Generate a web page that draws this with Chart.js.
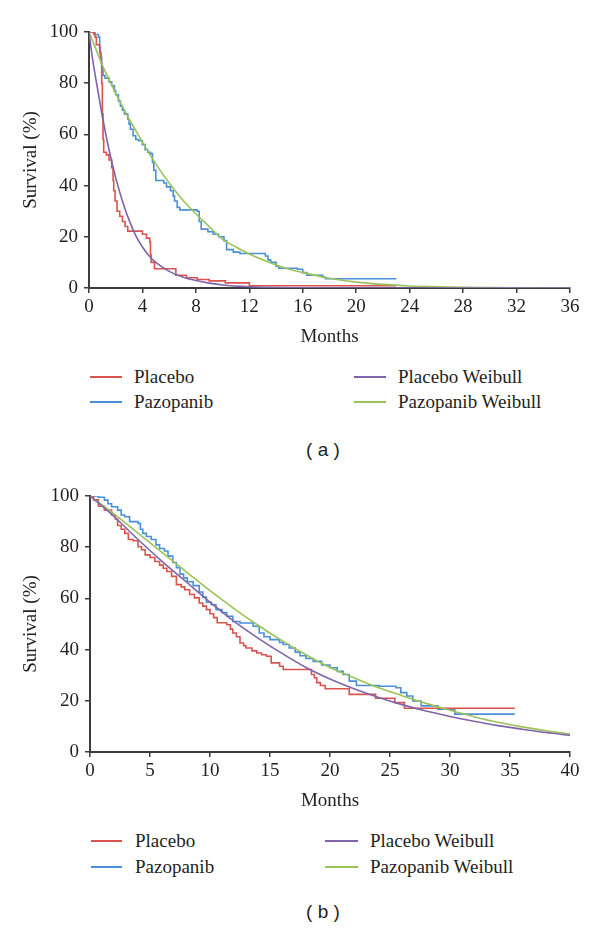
<!DOCTYPE html>
<html>
<head>
<meta charset="utf-8">
<script src="https://cdn.jsdelivr.net/npm/chart.js@4.4.0/dist/chart.umd.min.js"></script>
<style>
  body { margin: 0; background: #fff; }
  #page { position: relative; width: 600px; height: 929px; overflow: hidden; }
  canvas { position: absolute; left: 0; }
  .lg { position: absolute; height: 24px; line-height: 24px; font-family: "Liberation Serif", serif; font-size: 19px; color: #231f20; white-space: nowrap; }
  .lg span.sw { position: absolute; top: 11px; height: 2px; }
  .cap { position: absolute; width: 600px; text-align: center; font-family: "Liberation Sans", sans-serif; font-size: 19px; color: #231f20; }
</style>
</head>
<body>
<div id="page">
  <canvas id="chartA" width="600" height="350" style="top:0"></canvas>
  <canvas id="chartB" width="600" height="350" style="top:464px"></canvas>
</div>
<script>
// colours
const RED = '#d9534f';
const BLUE = '#4a90d9';
const PURPLE = '#8064aa';
const GREEN = '#9bc35a';

// ---- panel (a): [months, survival %] ----
const placeboKmA = [[0,100],[0.45,98],[0.55,95],[0.8,92],[0.9,88],[0.95,80],[1.0,68],[1.05,58],[1.1,53],[1.3,52],[1.5,50],[1.7,47],[1.8,42],[1.85,38],[1.95,34],[2.1,30],[2.3,28],[2.5,26],[2.7,24],[2.9,22.2],[4.0,21],[4.3,19.5],[4.55,18],[4.6,13],[4.65,10],[4.9,7.5],[6.5,5],[7.3,4],[8.1,3.3],[9.0,2.8],[10.2,2.0],[12.0,0.9],[23,0.9]];
const pazoKmA = [[0,100],[0.35,99],[0.7,98],[0.8,94],[0.85,90],[0.95,86],[1.05,83],[1.2,82],[1.5,80.5],[1.7,79],[1.9,77],[2.0,75.5],[2.2,73],[2.35,71],[2.5,69.5],[2.65,68],[2.9,66],[3.0,64],[3.1,62],[3.3,59.5],[3.5,58],[3.7,57.5],[4.0,56],[4.2,54],[4.4,53],[4.6,52.5],[4.75,49],[4.85,46],[5.0,42],[5.6,41],[5.8,39.5],[6.1,38],[6.3,36],[6.4,34],[6.6,31.5],[6.8,30.5],[8.1,30],[8.25,26],[8.4,23],[8.9,22],[9.3,21],[9.7,20],[10.1,18.5],[10.3,15],[10.8,14],[11.3,13.5],[13.2,12.5],[13.4,11],[13.6,10],[14.0,8.5],[14.2,7.7],[15.6,7.3],[16.0,6],[16.3,5],[17.5,4.2],[17.7,3.6],[23,3.6]];
const placeboWbA = [[0,100],[0.25,90],[0.5,82],[0.8,73],[1,67],[1.5,54],[2,43],[2.5,34],[3,26.5],[3.5,20.5],[4,16],[4.5,12.5],[5,10],[6,6.5],[7,4.3],[8,2.9],[9,1.9],[10,1.2],[12,0.5],[14,0.2],[16,0.1],[20,0],[36,0]];
const pazoWbA = [[0,100],[0.5,93.5],[1,87],[1.5,81.5],[2,76],[2.5,71],[3,66],[3.5,61.5],[4,57],[5,48.5],[6,41],[7,34.5],[8,29],[9,24],[10,19],[11,16],[12,13.3],[13,11],[14,9],[15,7.3],[16,6],[18,3.8],[20,2.3],[22,1.4],[24,0.8],[26,0.5],[28,0.3],[30,0.15],[33,0.05],[36,0]];
const xTicksA = [0,4,8,12,16,20,24,28,32,36];

// ---- panel (b) ----
const placeboKmB = [[0,100],[0.3,98.5],[0.7,96],[1.2,94.5],[1.8,92.6],[2.1,91],[2.3,88.5],[2.6,87],[2.9,85.4],[3.2,83],[3.6,82.5],[4.0,80.2],[4.3,79],[4.6,77],[5.0,76],[5.4,74.4],[5.8,73],[6.1,71.8],[6.4,70.5],[6.8,68.6],[7.2,65.4],[7.6,64.5],[7.9,63.4],[8.3,61.5],[8.7,60.2],[9.1,58.2],[9.4,57],[9.7,55.6],[10.0,54],[10.3,52.5],[10.6,50.5],[11.4,49.7],[11.7,48],[11.9,46.5],[12.2,45],[12.5,42.6],[12.8,41.5],[13.0,40.6],[13.5,39.5],[13.9,38.7],[14.3,38],[14.7,37.4],[15.1,34.8],[15.8,33.5],[16.1,32.2],[18.2,32.2],[18.45,30.3],[18.7,29],[18.9,27.1],[19.2,26],[19.6,24.7],[21.6,22.5],[23.8,21],[25.4,19.3],[26.2,17.1],[35.4,17.1]];
const pazoKmB = [[0,100],[0.7,99.5],[1.2,98.4],[1.5,97],[1.8,95.8],[2.3,94.5],[2.6,92.6],[2.9,91.9],[3.3,90],[4.0,89.3],[4.2,87],[4.4,85.4],[4.7,84.2],[5.1,83],[5.5,80.9],[5.8,79.5],[6.2,78.5],[6.5,76.5],[6.9,74],[7.2,72],[7.5,69.5],[7.8,68],[8.1,66.5],[8.6,65],[9.1,62.5],[9.4,60.5],[9.7,58.5],[10.1,57.5],[10.5,55.6],[11.0,54.5],[11.4,53],[11.9,51],[12.5,50.4],[13.6,49.1],[14.1,46.5],[14.5,45],[15.0,43.9],[15.8,42.8],[16.1,42],[16.6,40.6],[17.1,39],[17.5,37.6],[18.0,36.5],[18.6,35.4],[19.3,34],[20.0,32.9],[20.6,31.5],[21.1,30.3],[21.6,27.7],[22.2,26],[24.1,25.7],[25.5,25.1],[25.9,23.2],[26.4,21.9],[26.9,19.9],[27.6,18],[28.9,18],[29.0,16.7],[30.3,16.5],[30.4,14.8],[35.4,14.8]];
const placeboWbB = [[0,100],[2,92],[4,83],[6,74.5],[8,66.5],[10,58.5],[12,51],[14,44.5],[16,38.5],[18,33],[20,28.5],[22,24.7],[24,21.4],[26,18.5],[28,16],[30,13.9],[32,12],[34,10.3],[36,8.9],[38,7.6],[40,6.5]];
const pazoWbB = [[0,100],[2,93],[4,85.5],[6,78],[8,70.5],[10,63],[12,56],[14,49.5],[16,43.5],[18,38],[20,33],[22,29],[24,25.2],[26,22],[28,19],[30,16.3],[32,13.8],[34,11.6],[36,9.8],[38,8.3],[40,7]];
const xTicksB = [0,5,10,15,20,25,30,35,40];

const yTicks = [0,20,40,60,80,100];
const seriesNames = ['Placebo', 'Pazopanib', 'Placebo Weibull', 'Pazopanib Weibull'];

const FONT = '"Liberation Serif", serif';
const AXIS = '#3c3c3c';

function toXY(pairs) {
  return pairs.map(p => ({ x: p[0], y: p[1] }));
}

function makeChart(id, series, xTicks, yAxisWidth) {
  const colors = [RED, BLUE, PURPLE, GREEN];
  const datasets = series.map((s, i) => ({
    label: seriesNames[i],
    data: toXY(s),
    borderColor: colors[i],
    borderWidth: 1.6,
    pointRadius: 0,
    fill: false,
    stepped: i < 2 ? true : false,
    cubicInterpolationMode: i < 2 ? 'default' : 'monotone',
    order: i < 2 ? 1 : 0
  }));
  return new Chart(document.getElementById(id), {
    type: 'line',
    data: { datasets },
    options: {
      responsive: false,
      animation: false,
      devicePixelRatio: 1,
      layout: { padding: { left: 0, right: 30, top: 32, bottom: 0 } },
      plugins: { legend: { display: false }, tooltip: { enabled: false } },
      scales: {
        x: {
          type: 'linear',
          min: 0,
          max: xTicks[xTicks.length - 1],
          afterBuildTicks: s => { s.ticks = xTicks.map(v => ({ value: v })); },
          afterFit: s => { s.height = 62; },
          grid: { drawOnChartArea: false, drawTicks: true, tickLength: 5, color: AXIS, lineWidth: 1.5 },
          border: { display: true, color: AXIS, width: 2 },
          ticks: { font: { family: FONT, size: 19 }, color: '#231f20', padding: 3, maxRotation: 0, autoSkip: false },
          title: { display: true, text: 'Months', font: { family: FONT, size: 19 }, color: '#231f20', padding: { top: 0, bottom: 2 } }
        },
        y: {
          min: 0,
          max: 100,
          afterBuildTicks: s => { s.ticks = yTicks.map(v => ({ value: v })); },
          afterFit: s => { s.width = yAxisWidth; },
          grid: { drawOnChartArea: false, drawTicks: true, tickLength: 5, color: AXIS, lineWidth: 1.5 },
          border: { display: true, color: AXIS, width: 2 },
          ticks: { font: { family: FONT, size: 19 }, color: '#231f20', padding: 6 },
          title: { display: true, text: 'Survival (%)', font: { family: FONT, size: 19 }, color: '#231f20', padding: { top: 20, bottom: 0 } }
        }
      }
    }
  });
}

makeChart('chartA', [placeboKmA, pazoKmA, placeboWbA, pazoWbA], xTicksA, 89);
makeChart('chartB', [placeboKmB, pazoKmB, placeboWbB, pazoWbB], xTicksB, 90);

// html legends, two columns x two rows
function legend(rowY, leftLine, leftText, rightLine, rightText) {
  const page = document.getElementById('page');
  const colors = [RED, BLUE, PURPLE, GREEN];
  const cols = [[leftLine, leftText], [leftLine, leftText], [rightLine, rightText], [rightLine, rightText]];
  seriesNames.forEach((name, i) => {
    const d = document.createElement('div');
    d.className = 'lg';
    d.style.top = (rowY[i % 2] - 12) + 'px';
    d.style.left = cols[i][0][0] + 'px';
    const sw = document.createElement('span');
    sw.className = 'sw';
    sw.style.left = '0px';
    sw.style.width = (cols[i][0][1] - cols[i][0][0]) + 'px';
    sw.style.background = colors[i];
    const t = document.createElement('span');
    t.style.position = 'absolute';
    t.style.left = (cols[i][1] - cols[i][0][0]) + 'px';
    t.textContent = name;
    d.appendChild(sw);
    d.appendChild(t);
    page.appendChild(d);
  });
}
legend([377, 402], [90, 122], 134, [354, 386], 398);
legend([841, 867], [91, 122], 135, [325, 358], 370);

function caption(text, y) {
  const c = document.createElement('div');
  c.className = 'cap';
  c.style.top = (y - 11) + 'px';
  c.style.left = '23px';
  c.textContent = text;
  document.getElementById('page').appendChild(c);
}
caption('( a )', 450);
caption('( b )', 912);
</script>
</body>
</html>
